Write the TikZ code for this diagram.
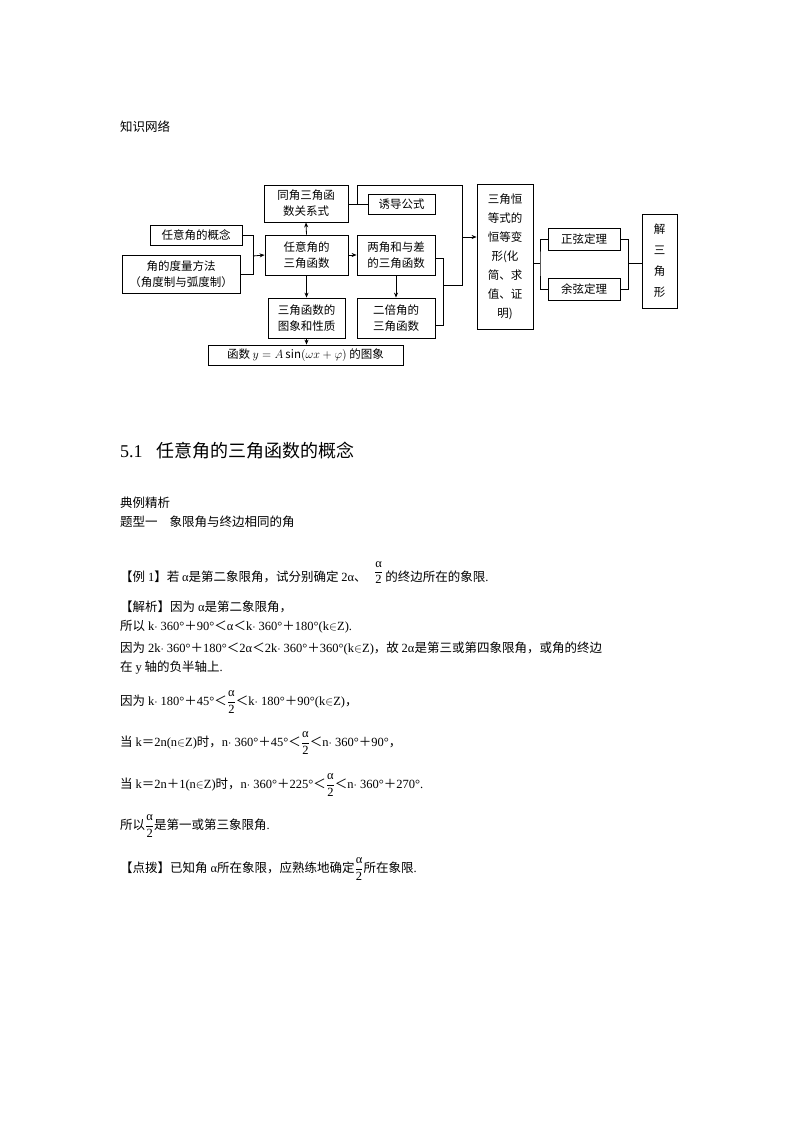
\documentclass[tikz,border=0pt]{standalone}
\usepackage{fontspec}
\setmainfont{Noto Sans CJK SC}
\newfontfamily\tm{Liberation Serif}
\newfontfamily\cj{Noto Sans CJK SC}
\newcommand\zpl{{\cj ＋}}
\newcommand\zlt{{\cj ＜}}
\newcommand\zeq{{\cj ＝}}
\newcommand\zin{$\in$}
\newcommand\zfr{$\displaystyle\frac{\mbox{\tm α}}{\mbox{\tm 2}}$}
\usetikzlibrary{arrows.meta}
\begin{document}
\begin{tikzpicture}[x=1pt,y=-1pt,
 bx/.style={draw,line width=0.8pt,align=center,inner sep=1pt,font=\fontsize{11.5}{16}\selectfont},
 ln/.style={line width=0.8pt},
 ar/.style={line width=0.8pt,-{Stealth[length=5pt,width=4pt]}},
 tx/.style={anchor=base west,inner sep=0pt,font=\fontsize{12.5}{15}\selectfont}]
\useasboundingbox[fill=white] (0,0) rectangle (794,1123);
\node[tx] (t0) at (120,132) {知识网络};
\node[bx,minimum width=84pt,minimum height=37pt] (tj) at (306,203.5) {同角三角函\\数关系式};
\node[bx,minimum width=67pt,minimum height=20pt] (yd) at (401.5,204) {诱导公式};
\node[bx,minimum width=92pt,minimum height=20pt] (gn) at (196,235) {任意角的概念};
\node[bx,minimum width=118pt,minimum height=38pt,inner sep=0pt] (dl) at (181,274) {角的度量方法\\（角度制与弧度制）};
\node[bx,minimum width=83pt,minimum height=40pt] (rx) at (306.5,255) {任意角的\\三角函数};
\node[bx,minimum width=78pt,minimum height=40pt] (lj) at (396,255) {两角和与差\\的三角函数};
\node[bx,minimum width=77pt,minimum height=40pt] (tx) at (306.5,318) {三角函数的\\图象和性质};
\node[bx,minimum width=78pt,minimum height=40pt] (eb) at (396,318) {二倍角的\\三角函数};
\node[bx,minimum width=195pt,minimum height=20pt] (hs) at (305.5,355) {函数 $y=A\sin(\omega x+\varphi)$ 的图象};
\node[bx,minimum width=56pt,minimum height=145pt,font=\fontsize{11.5}{19}\selectfont] (hd) at (505,256.5) {三角恒\\等式的\\恒等变\\形(化\\简、求\\值、证\\明)};
\node[bx,minimum width=72pt,minimum height=22pt] (zx) at (584,239) {正弦定理};
\node[bx,minimum width=72pt,minimum height=22pt] (yx) at (584,289) {余弦定理};
\node[bx,minimum width=35pt,minimum height=94pt,font=\fontsize{11.5}{21}\selectfont] (js) at (659.5,261) {解\\三\\角\\形};
\coordinate (m1) at (253,256);
\draw[ln] (gn.east) -| (m1); \draw[ln] (dl.east) -| (m1);
\draw[ar] (m1) -- (rx.west);
\draw[ar] (rx.north) -- (tj.south);
\draw[ar] (rx.south) -- (tx.north);
\draw[ar] (tx.south) -- (tx.south |- hs.north);
\draw[ar] (rx.east) -- (lj.west);
\draw[ar] (lj.south) -- (eb.north);
\coordinate (c1) at (443,258); \coordinate (c2) at (443,325);
\draw[ln] (lj.east |- c1) -- (c1) -- (c2) -- (eb.east |- c2);
\coordinate (c3) at (443,285); \coordinate (c4) at (462,285);
\coordinate (c5) at (462,185); \coordinate (c6) at (357,185); \coordinate (c7) at (357,204);
\draw[ln] (tj.east |- c7) -- (yd.west |- c7);
\draw[ln] (c3) -- (c4) -- (c5) -- (c6) -- (c7);
\coordinate (c8) at (462,237);
\draw[ar] (c8) -- (hd.west |- c8);
\coordinate (c9) at (540,263);
\draw[ln] (hd.east |- c9) -- (c9);
\draw[ln] (zx.west) -| (c9) |- (yx.west);
\coordinate (c10) at (628,263);
\draw[ln] (zx.east) -| (c10) |- (yx.east);
\draw[ln] (c10) -- (js.west |- c10);
\node[tx,font=\fontsize{18}{20}\selectfont] (h1) at (120,457) {{\tm 5.1}\hspace{14pt}任意角的三角函数的概念};
\node[tx] (l1) at (120,507) {典例精析};
\node[tx] (l2) at (120,526) {题型一\hspace{12pt}象限角与终边相同的角};
\node[tx] (l3a) at (120,581) {【例 {\tm 1}】若 {\tm α}是第二象限角，试分别确定 {\tm 2α}、};
\node[anchor=south west,inner sep=1pt,font=\fontsize{12.5}{15}\selectfont] (fr) at ([yshift=-4pt,xshift=6pt]l3a.base east) {\zfr};
\node[tx] (l3b) at ([xshift=1pt]fr.east |- l3a.base) {的终边所在的象限{\tm .}};
\node[tx] (l4) at (120,611) {【解析】因为 {\tm α}是第二象限角，};
\node[tx] (l5) at (120,630) {所以 {\tm k$\cdot$ 360°\zpl 90°\zlt α\zlt k$\cdot$ 360°\zpl 180°(k\zin Z).}};
\node[tx] (l6) at (120,652) {因为 {\tm 2k$\cdot$ 360°\zpl 180°\zlt 2α\zlt 2k$\cdot$ 360°\zpl 360°(k\zin Z)}，故 {\tm 2α}是第三或第四象限角，或角的终边};
\node[tx] (l7) at (120,671) {在 {\tm y} 轴的负半轴上{\tm .}};
\node[tx] (l8) at (120,705) {因为 {\tm k$\cdot$ 180°\zpl 45°\zlt\zfr\zlt k$\cdot$ 180°\zpl 90°(k\zin Z)}，};
\node[tx] (l9) at (120,746) {当 {\tm k\zeq 2n(n\zin Z)}时，{\tm n$\cdot$ 360°\zpl 45°\zlt\zfr\zlt n$\cdot$ 360°\zpl 90°}，};
\node[tx] (l10) at (120,788) {当 {\tm k\zeq 2n\zpl 1(n\zin Z)}时，{\tm n$\cdot$ 360°\zpl 225°\zlt\zfr\zlt n$\cdot$ 360°\zpl 270°.}};
\node[tx] (l11) at (120,829) {所以\zfr 是第一或第三象限角{\tm .}};
\node[tx] (l12) at (120,872) {【点拨】已知角 {\tm α}所在象限，应熟练地确定\zfr 所在象限{\tm .}};
\end{tikzpicture}
\end{document}
